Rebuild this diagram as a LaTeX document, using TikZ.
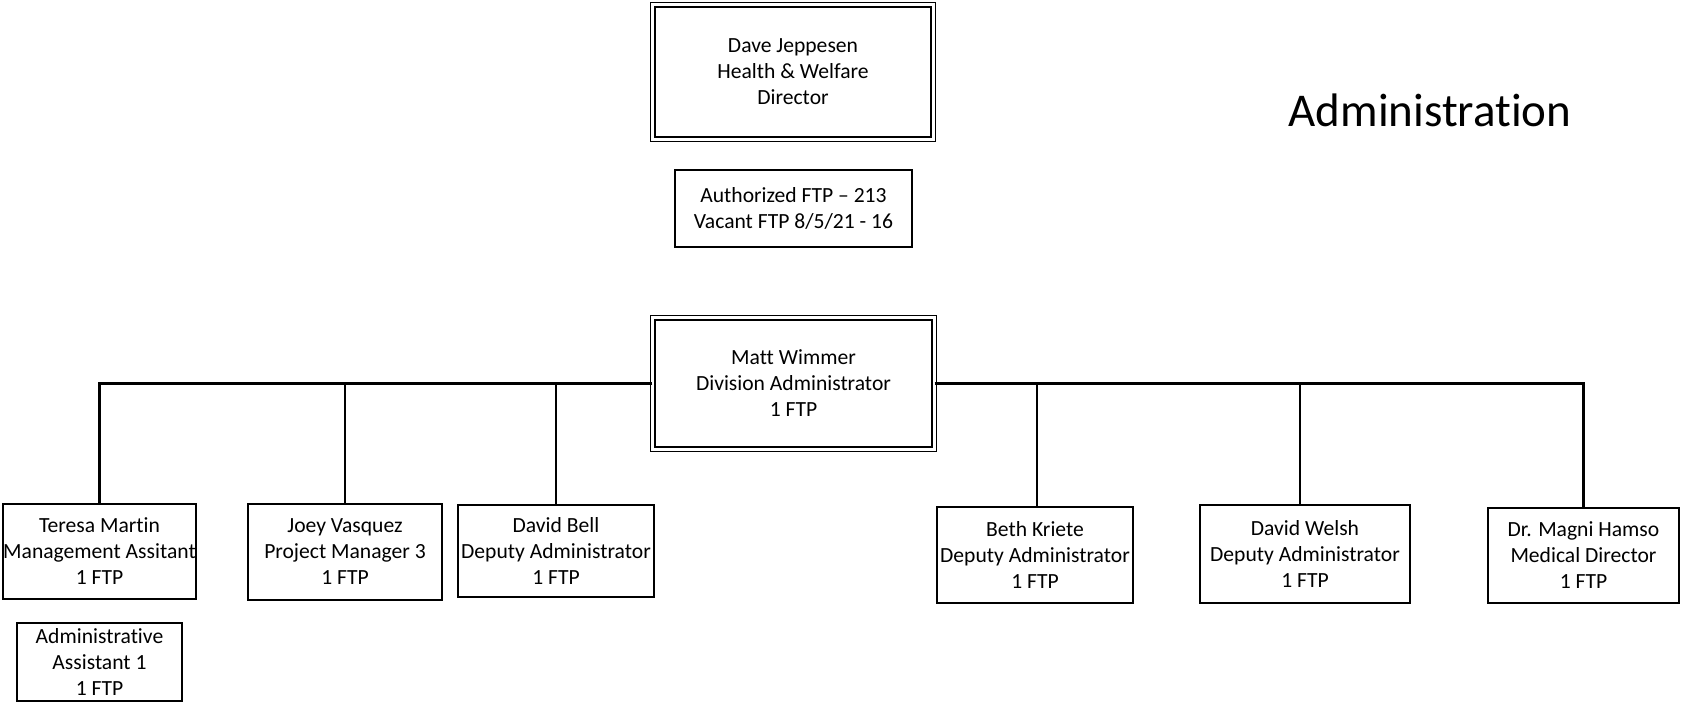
\documentclass[tikz,border=0pt]{standalone}
\usepackage{fontspec}
\setmainfont{Carlito}[Ligatures=NoCommon]
\usetikzlibrary{positioning}

\begin{document}
\begin{tikzpicture}[x=0.5pt,y=-0.5pt,
  every node/.style={align=center,inner sep=0pt,font=\fontsize{10.8}{13}\selectfont},
  post/.style={draw,line width=0.8pt},
  headpost/.style={draw,double,double distance=1.6pt,line width=0.6pt},
  link/.style={line width=1.2pt}]
  \useasboundingbox (0,0) rectangle (1683,703);

  \node (dave) at (793,72) [headpost,minimum width=140.2pt,minimum height=67.2pt]{Dave Jeppesen\\Health \& Welfare\\Director};
  \node (ftp) at (793.5,208.5) [post,minimum width=118.5pt,minimum height=38.5pt]{Authorized FTP -- 213\\Vacant FTP 8/5/21 - 16};
  \node (title) at (1430,110) [font=\fontsize{23.5}{28}\selectfont]{Administration};

  \node (matt) at (793.5,383.5) [headpost,minimum width=140.7pt,minimum height=65.7pt]{Matt Wimmer\\Division Administrator\\1 FTP};

  \node (teresa) at (99.5,551.5) [post,minimum width=96.5pt,minimum height=47.5pt]{Teresa Martin\\Management Assitant\\1 FTP};
  \node (joey) at (345,552) [post,minimum width=97pt,minimum height=48pt]{Joey Vasquez\\Project Manager 3\\1 FTP};
  \node (bell) at (556,551) [post,minimum width=98pt,minimum height=46pt]{David Bell\\Deputy Administrator\\1 FTP};
  \node (beth) at (1035,555) [post,minimum width=98pt,minimum height=48pt]{Beth Kriete\\Deputy Administrator\\1 FTP};
  \node (welsh) at (1305,554) [post,minimum width=105pt,minimum height=49pt]{David Welsh\\Deputy Administrator\\1 FTP};
  \node (magni) at (1583.5,555.5) [post,minimum width=95.5pt,minimum height=47.5pt]{Dr. Magni Hamso\\Medical Director\\1 FTP};
  \node (asst) at (99.5,662) [post,minimum width=82.5pt,minimum height=39pt]{Administrative\\Assistant 1\\1 FTP};

  \draw[link](matt.west) -| (teresa.north);
  \draw[link](matt.west) -| (joey.north);
  \draw[link](matt.west) -| (bell.north);
  \draw[link](matt.east) -| ([xshift=1pt]beth.north);
  \draw[link](matt.east) -| ([xshift=-2.5pt]welsh.north);
  \draw[link](matt.east) -| (magni.north);
\end{tikzpicture}
\end{document}
